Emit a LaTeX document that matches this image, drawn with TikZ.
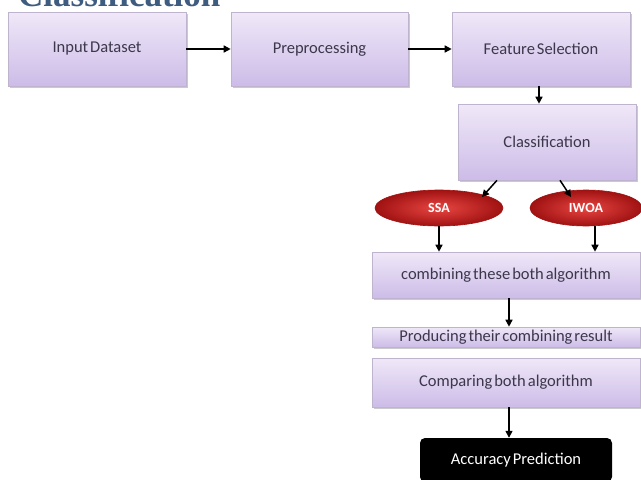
\documentclass[tikz,border=0pt]{standalone}
\usepackage{fontspec}
\setmainfont{Carlito}
\newfontfamily\titlefont{Liberation Serif}
\usetikzlibrary{arrows.meta,shadows,shapes.geometric}
\definecolor{titleblue}{RGB}{62,92,128}
\definecolor{boxtop}{RGB}{240,232,248}
\definecolor{boxbot}{RGB}{204,188,232}
\definecolor{boxline}{RGB}{190,180,205}
\definecolor{txt}{RGB}{60,55,75}
\definecolor{redin}{RGB}{232,70,66}
\definecolor{redout}{RGB}{160,18,18}
\newcommand{\boxfont}{\fontsize{16.5}{18}\selectfont\spaceskip=0.12em plus 0.05em minus 0.02em\relax}
\tikzset{
  flowbox/.style={rectangle, draw=boxline, line width=0.6pt,
    top color=boxtop, bottom color=boxbot, text=txt,
    font=\boxfont, inner sep=0pt,
    drop shadow={shadow xshift=1.5pt, shadow yshift=-1.8pt, opacity=0.35, fill=black!60}},
  algo/.style={ellipse, draw=redout, line width=0.6pt, shading=radial,
    inner color=redin, outer color=redout, text=white,
    font=\bfseries\fontsize{14}{16}\selectfont, inner sep=0pt},
  result/.style={rectangle, rounded corners=5pt, fill=black, text=white,
    font=\boxfont, inner sep=0pt},
  flow/.style={-{Triangle[length=7pt,width=7pt]}, line width=1.5pt, black}
}
\begin{document}
\begin{tikzpicture}[x=1pt,y=-1pt]
\useasboundingbox (0,0) rectangle (641,480);
\node[anchor=base west, text=titleblue, font=\titlefont\bfseries\fontsize{35}{37}\selectfont, inner sep=0pt] (title) at (18,6) {Classification};
\node[flowbox, minimum width=178pt, minimum height=74pt] (input) at (97,49) {Input Dataset};
\node[flowbox, minimum width=177pt, minimum height=74pt] (pre) at (319.5,49) {Preprocessing};
\node[flowbox, minimum width=178pt, minimum height=74pt] (feat) at (541,49) {Feature Selection};
\node[flowbox, minimum width=178pt, minimum height=76pt] (cls) at (547,142) {Classification};
\node[algo, minimum width=128pt, minimum height=36pt] (ssa) at (439,208) {SSA};
\node[algo, minimum width=112pt, minimum height=36pt] (iwoa) at (586,208) {IWOA};
\node[flowbox, minimum width=268pt, minimum height=46pt] (comb) at (506,275) {combining these both algorithm};
\node[flowbox, minimum width=268pt, minimum height=20pt] (prod) at (506,337) {Producing their combining result};
\node[flowbox, minimum width=268pt, minimum height=49pt] (comp) at (506,382.5) {Comparing both algorithm};
\node[result, minimum width=192pt, minimum height=44pt] (acc) at (516,460) {Accuracy Prediction};
\coordinate (ssaIn) at (482,197);
\coordinate (iwoaIn) at (571,197);
\draw[flow] (input) -- (pre);
\draw[flow] (pre) -- (feat);
\draw[flow] (feat.south -| 539,0) -- (cls.north -| 539,0);
\draw[flow] (cls.south -| 497,0) -- (ssaIn);
\draw[flow] (cls.south -| 560,0) -- (iwoaIn);
\draw[flow] (ssa.south) -- (comb.north -| ssa.south);
\draw[flow] (iwoa.south -| 595,0) -- (comb.north -| 595,0);
\draw[flow] (comb.south -| 509,0) -- (prod.north -| 509,0);
\draw[flow] (comp.south -| 509,0) -- (acc.north -| 509,0);
\end{tikzpicture}
\end{document}
